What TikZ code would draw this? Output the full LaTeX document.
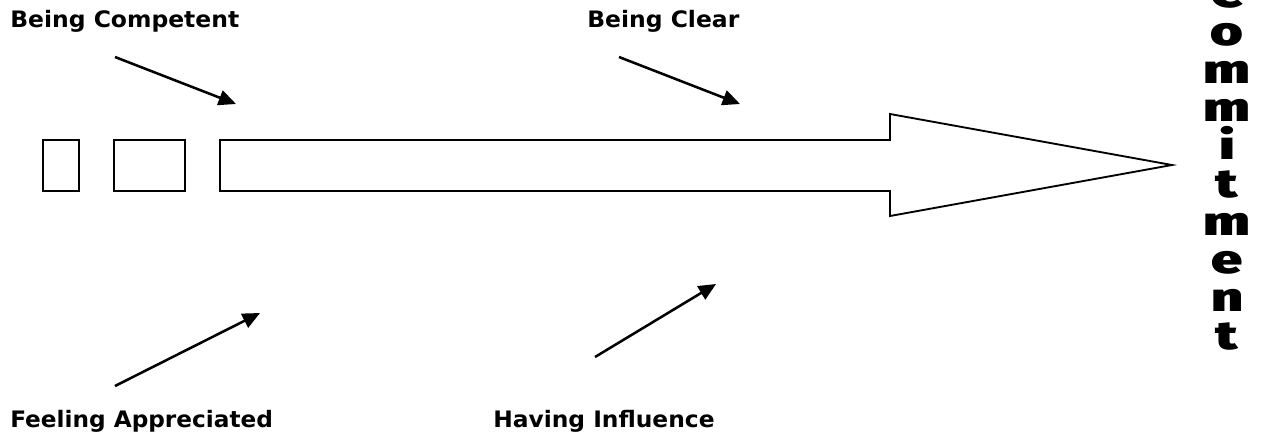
\documentclass[tikz,border=0pt]{standalone}
\usepackage{fontspec}
\setmainfont{DejaVu Sans}
\newfontfamily\heavyfont{Fira Sans Black}
\newfontfamily\labelfont{DejaVu Sans Bold}
\usetikzlibrary{arrows.meta}

\begin{document}
\begin{tikzpicture}[x=0.75pt, y=-0.75pt,
    caja/.style={draw, line width=1.4pt, inner sep=0pt, minimum height=38.25pt},
    flecha/.style={-{Triangle[length=13pt, width=11.5pt]}, line width=1.9pt},
    etiqueta/.style={font=\labelfont\fontsize{17}{19}\selectfont, anchor=base west, inner sep=0pt},
    letra/.style={font=\heavyfont\fontsize{30}{30}\selectfont, anchor=base, inner sep=0pt}]

    \useasboundingbox (0,0) rectangle (1267,440);

    % Cajas
    \node[caja, minimum width=27pt] (caja1) at (61,165.5) {};
    \node[caja, minimum width=53.25pt] (caja2) at (149.5,165.5) {};

    % Flecha grande
    \draw[line width=1.4pt] (220,140) -- (890,140) -- (890,114) -- (1172,165)
        -- (890,216) -- (890,191) -- (220,191) -- cycle;

    % Etiquetas
    \node[etiqueta] (competente) at (10,27.7) {\scalebox{1.035}[1]{Being Competent}};
    \node[etiqueta] (claro) at (587,27.7) {\scalebox{1.035}[1]{Being Clear}};
    \node[etiqueta] (apreciado) at (10,427) {\scalebox{1.024}[1]{Feeling Appreciated}};
    \node[etiqueta] (influencia) at (493,427) {\scalebox{1.03}[1]{Having Influence}};

    % Flechas
    \coordinate (compA) at (115,57);
    \coordinate (compB) at (236,104);
    \coordinate (clarA) at (619,57);
    \coordinate (clarB) at (740,104);
    \coordinate (aprA) at (115,386);
    \coordinate (aprB) at (260,313);
    \coordinate (inflA) at (595,357);
    \coordinate (inflB) at (716,284);
    \draw[flecha] (compA) -- (compB);
    \draw[flecha] (clarA) -- (clarB);
    \draw[flecha] (aprA) -- (aprB);
    \draw[flecha] (inflA) -- (inflB);

    % Commitment
    \foreach \ch [count=\k from 0] in {C,o,m,m,i,t,m,e,n,t}
        \node[letra] (com\k) at (1227,{7+38*\k}) {\scalebox{1.4}[1]{\ch}};

\end{tikzpicture}
\end{document}
